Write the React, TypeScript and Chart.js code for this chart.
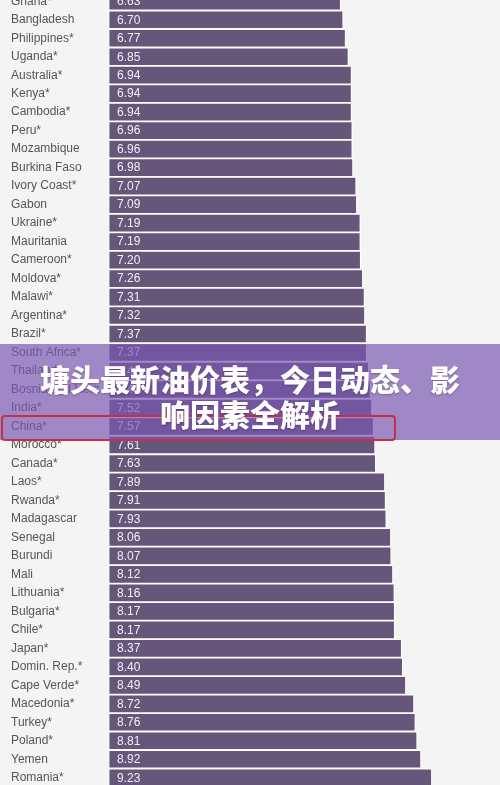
import React, { useEffect, useRef } from "react";
import { Chart, registerables } from "chart.js";

Chart.register(...registerables);

const countries = [
  "Ghana*", "Bangladesh", "Philippines*", "Uganda*", "Australia*", "Kenya*", "Cambodia*",
  "Peru*", "Mozambique", "Burkina Faso", "Ivory Coast*", "Gabon", "Ukraine*", "Mauritania",
  "Cameroon*", "Moldova*", "Malawi*", "Argentina*", "Brazil*", "South Africa*", "Thailand*",
  "Bosnia and Herz.", "India*", "China*", "Morocco*", "Canada*", "Laos*", "Rwanda*",
  "Madagascar", "Senegal", "Burundi", "Mali", "Lithuania*", "Bulgaria*", "Chile*", "Japan*",
  "Domin. Rep.*", "Cape Verde*", "Macedonia*", "Turkey*", "Poland*", "Yemen", "Romania*",
];

const prices = [
  6.63, 6.70, 6.77, 6.85, 6.94, 6.94, 6.94,
  6.96, 6.96, 6.98, 7.07, 7.09, 7.19, 7.19,
  7.20, 7.26, 7.31, 7.32, 7.37, 7.37, 7.43,
  7.48, 7.52, 7.57, 7.61, 7.63, 7.89, 7.91,
  7.93, 8.06, 8.07, 8.12, 8.16, 8.17, 8.17, 8.37,
  8.40, 8.49, 8.72, 8.76, 8.81, 8.92, 9.23,
];

const titleText = "塘头最新油价表，今日动态、影响因素全解析";

const FONT = '"Liberation Sans", Arial, sans-serif';

export default function App() {
  const ref = useRef<HTMLCanvasElement | null>(null);

  useEffect(() => {
    document.body.style.margin = "0";
    const canvas = ref.current;
    if (!canvas) return;
    const valuePlugin = {
      id: "valueLabels",
      afterDatasetsDraw(chart: any) {
        const ctx = chart.ctx;
        const meta = chart.getDatasetMeta(0);
        const left = chart.chartArea.left;
        ctx.save();
        ctx.font = `12px ${FONT}`;
        ctx.fillStyle = "#f1eef5";
        ctx.textAlign = "left";
        ctx.textBaseline = "middle";
        meta.data.forEach((bar: any, i: number) => {
          ctx.fillText(prices[i].toFixed(2), left + 8.5, bar.y + 0.5);
        });
        ctx.restore();
      },
    };
    const chart = new Chart(canvas, {
      type: "bar",
      data: {
        labels: countries,
        datasets: [
          {
            data: prices,
            backgroundColor: "#66577a",
            borderColor: "#ffffff",
            borderWidth: 1.25,
            borderSkipped: false,
            barPercentage: 1,
            categoryPercentage: 1,
          },
        ],
      },
      options: {
        indexAxis: "y",
        animation: false,
        responsive: false,
        devicePixelRatio: 1,
        layout: { autoPadding: false, padding: { left: 11, right: 0, top: 0, bottom: 0 } },
        plugins: {
          legend: { display: false },
          tooltip: { enabled: false },
          title: { display: false },
        },
        scales: {
          x: { display: false, min: 0, max: 11.17 },
          y: {
            grid: { display: false },
            border: { display: false },
            ticks: {
              autoSkip: false,
              crossAlign: "far",
              color: "#555555",
              font: { family: FONT, size: 12 },
              padding: 0,
            },
            afterFit: (s: any) => {
              s.width = 97.5;
              s.paddingTop = 0;
              s.paddingBottom = 0;
            },
          },
        },
      },
      plugins: [valuePlugin],
    } as any);
    return () => chart.destroy();
  }, []);

  return (
    <div
      style={{
        position: "absolute",
        left: 0,
        top: 0,
        width: 500,
        height: 785,
        overflow: "hidden",
        background: "#f4f4f4",
      }}
    >
      <canvas
        ref={ref}
        width={500}
        height={795}
        style={{ position: "absolute", left: 0, top: -8.35, width: 500, height: 795 }}
      />
      <div
        style={{
          position: "absolute",
          left: 0,
          top: 344,
          width: 500,
          height: 95.5,
          background: "rgba(122, 86, 177, 0.69)",
        }}
      />
      <div
        style={{
          position: "absolute",
          left: 1,
          top: 414.5,
          width: 395,
          height: 26.5,
          border: "2px solid #c4304b",
          borderRadius: 4,
          boxSizing: "border-box",
        }}
      />
      <div
        style={{
          position: "absolute",
          left: 30,
          top: 360.5,
          width: 440,
          textAlign: "center",
          color: "#ffffff",
          fontFamily: '"Noto Sans CJK SC", sans-serif',
          fontWeight: 900,
          fontSize: 30,
          lineHeight: "35px",
          textShadow: "0 1px 2px rgba(40,20,60,0.35)",
        }}
      >
        {titleText}
      </div>
    </div>
  );
}
